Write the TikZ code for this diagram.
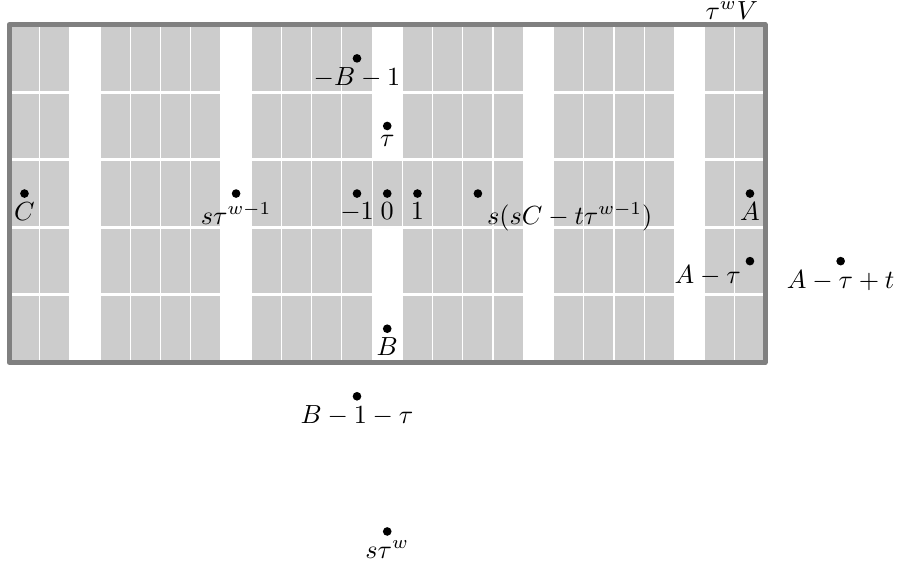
\documentclass[tikz,border=0pt]{standalone}
\begin{document}
\begin{tikzpicture}[x=11.54pt,y=25.80pt,
  cell/.style={fill=black!20},
  gapv/.style={draw=white,line width=0.45pt},
  gaph/.style={draw=white,line width=1.15pt},
  frame/.style={draw=black!50,line width=1.9pt,line join=round},
  dot/.style={circle,fill=black,inner sep=0pt,minimum size=3.3pt},
  lbl/.style={inner sep=3.33pt}]
\useasboundingbox (-12.81,2.864) rectangle (16.93,-5.538);
% cells
\foreach \a in {-12,-11,-9,-8,-7,-6,-4,-3,-2,-1,1,2,3,4,6,7,8,9,11,12}{
  \fill[cell] (\a-0.5,-2.5) rectangle (\a+0.5,2.5);
}
\fill[cell] (-0.5,-0.5) rectangle (0.5,0.5);
% grid lines
\foreach \a in {-12,...,11}{
  \draw[gapv] (\a+0.5,-2.5) -- (\a+0.5,2.5);
}
\foreach \b in {-1.5,-0.5,0.5,1.5}{
  \draw[gaph] (-12.5,\b) -- (12.5,\b);
}
% frame
\coordinate (SW) at (-12.5,-2.5);
\coordinate (NE) at (12.5,2.5);
\draw[frame] (SW) rectangle (NE);
\node[inner sep=0pt,anchor=south east,xshift=-2.5pt,yshift=1.8pt] (V) at (NE) {$\tau^wV$};
% points
\node[dot] (C) at (-12,0) {};
\node[lbl,anchor=north] (Cl) at (C.center) {$C$};
\node[dot] (stw1) at (-5,0) {};
\node[lbl,anchor=north] (stw1l) at (stw1.center) {$s\tau^{w-1}$};
\node[dot] (m1) at (-1,0) {};
\node[lbl,anchor=north] (m1l) at (m1.center) {$-1$};
\node[dot] (z) at (0,0) {};
\node[lbl,anchor=north] (zl) at (z.center) {$0$};
\node[dot] (p1) at (1,0) {};
\node[lbl,anchor=north] (p1l) at (p1.center) {$1$};
\node[dot] (ss) at (3,0) {};
\node[lbl,anchor=north west] (ssl) at (ss.center) {$s(sC-t\tau^{w-1})$};
\node[dot] (A) at (12,0) {};
\node[lbl,anchor=north] (Al) at (A.center) {$A$};
\node[dot] (mB1) at (-1,2) {};
\node[lbl,anchor=north] (mB1l) at (mB1.center) {$-B-1$};
\node[dot] (tau) at (0,1) {};
\node[lbl,anchor=north] (taul) at (tau.center) {$\tau$};
\node[dot] (B) at (0,-2) {};
\node[lbl,anchor=north] (Bl) at (B.center) {$B$};
\node[dot] (Amt) at (12,-1) {};
\node[lbl,anchor=north east,yshift=1.8pt] (Amtl) at (Amt.center) {$A-\tau$};
\node[dot] (Amtt) at (15,-1) {};
\node[lbl,anchor=north] (Amttl) at (Amtt.center) {$A-\tau+t$};
\node[dot] (B1t) at (-1,-3) {};
\node[lbl,anchor=north] (B1tl) at (B1t.center) {$B-1-\tau$};
\node[dot] (stw) at (0,-5) {};
\node[lbl,anchor=north] (stwl) at (stw.center) {$s\tau^w$};
\end{tikzpicture}
\end{document}
